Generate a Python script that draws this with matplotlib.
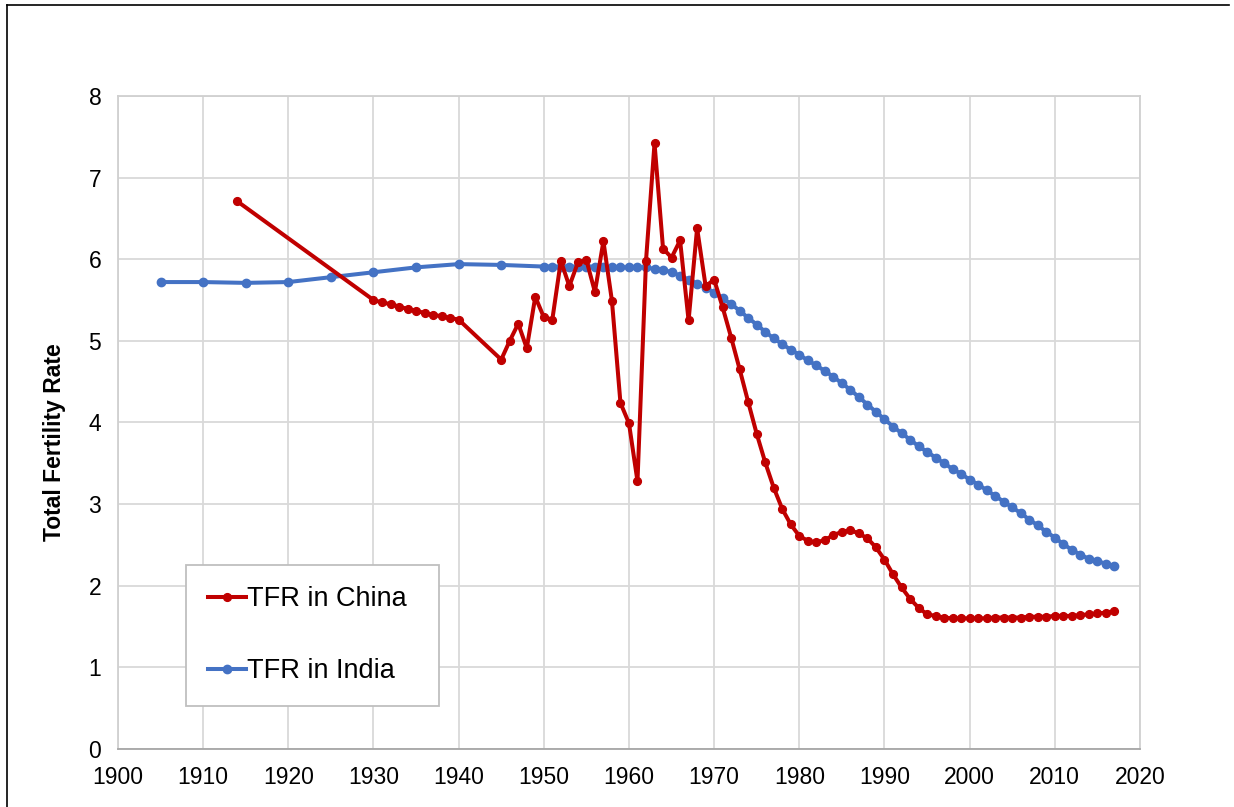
import matplotlib
matplotlib.use("Agg")
import matplotlib.pyplot as plt
from matplotlib.lines import Line2D

# ===============================
# Data
# ===============================
china_years = [1914] + list(range(1930, 1941)) + list(range(1945, 2018))
china_tfr = [
    6.71,
    5.50, 5.47, 5.45, 5.42, 5.39, 5.37, 5.34, 5.32, 5.30, 5.28, 5.26,
    4.77, 5.00, 5.21, 4.91, 5.54, 5.29, 5.26, 5.98, 5.67, 5.96,
    5.99, 5.60, 6.22, 5.49, 4.24, 3.99, 3.28, 5.98, 7.42, 6.13,
    6.02, 6.23, 5.25, 6.38, 5.67, 5.75, 5.41, 5.04, 4.65, 4.25,
    3.86, 3.51, 3.20, 2.94, 2.75, 2.61, 2.55, 2.53, 2.56, 2.62,
    2.66, 2.68, 2.64, 2.58, 2.47, 2.32, 2.14, 1.98, 1.84, 1.73,
    1.65, 1.63, 1.61, 1.60, 1.60, 1.60, 1.60, 1.60, 1.61, 1.61,
    1.61, 1.61, 1.62, 1.62, 1.62, 1.63, 1.63, 1.63, 1.64, 1.65,
    1.66, 1.67, 1.69,
]

india_years = [1905, 1910, 1915, 1920, 1925, 1930, 1935, 1940, 1945] + list(range(1950, 2018))
india_tfr = [
    5.72, 5.72, 5.71, 5.72, 5.78, 5.84, 5.90, 5.94, 5.93,
    5.91, 5.91, 5.91, 5.91, 5.91, 5.91, 5.91, 5.90, 5.90, 5.90,
    5.90, 5.90, 5.90, 5.88, 5.87, 5.84, 5.80, 5.75, 5.70, 5.65,
    5.59, 5.52, 5.45, 5.37, 5.28, 5.20, 5.11, 5.03, 4.96, 4.89,
    4.83, 4.76, 4.70, 4.63, 4.56, 4.48, 4.40, 4.31, 4.22, 4.13,
    4.04, 3.95, 3.87, 3.79, 3.71, 3.64, 3.57, 3.50, 3.43, 3.37,
    3.30, 3.24, 3.17, 3.10, 3.03, 2.96, 2.89, 2.81, 2.74, 2.66,
    2.59, 2.51, 2.44, 2.38, 2.33, 2.30, 2.27, 2.24,
]

x_ticks = list(range(1900, 2021, 10))
y_ticks = list(range(0, 9))

# ===============================
# Figure
# ===============================
plt.rcParams["font.family"] = ["Liberation Sans", "DejaVu Sans"]

fig = plt.figure(figsize=(12.34, 8.07), dpi=100)
ax = fig.add_axes([0.0956, 0.0719, 0.8282, 0.8092])

ax.plot(china_years, china_tfr, color="#C00000", linewidth=2.9,
        marker="o", markersize=5.6, label="TFR in China", zorder=3)
ax.plot(india_years, india_tfr, color="#4472C4", linewidth=2.9,
        marker="o", markersize=6.0, label="TFR in India", zorder=2)

ax.set_xlim(1900, 2020)
ax.set_ylim(0, 8)
ax.set_xticks(x_ticks)
ax.set_yticks(y_ticks)
ax.tick_params(axis="both", length=0, labelsize=16.5, pad=12)
ax.grid(True, color="#d9d9d9", linewidth=1.3)
ax.set_axisbelow(True)
for s in ax.spines.values():
    s.set_color("#d0d0d0")
    s.set_linewidth(1.3)
ax.spines["bottom"].set_color("#a6a6a6")

ax.set_ylabel("Total Fertility Rate", fontsize=16.5, fontweight="bold")
ax.yaxis.set_label_coords(-0.0505, 0.4706)

leg = ax.legend(loc="lower left", bbox_to_anchor=(0.0665, 0.0658, 0.2475, 0.2222),
                mode="expand", fontsize=19.5, labelspacing=1.7, borderpad=0.8,
                handlelength=1.4, handletextpad=0.05, fancybox=False,
                framealpha=1, borderaxespad=0)
leg.get_frame().set_edgecolor("#bfbfbf")
leg.get_frame().set_linewidth(1.3)

# outer border (left and top edges visible in the original)
fig.add_artist(Line2D([7 / 1234, 7 / 1234], [0, 1 - 5 / 807], color="black", linewidth=1.2))
fig.add_artist(Line2D([7 / 1234, 1229 / 1234], [1 - 5 / 807, 1 - 5 / 807], color="black", linewidth=1.2))

fig.savefig("out.png", dpi=100)
